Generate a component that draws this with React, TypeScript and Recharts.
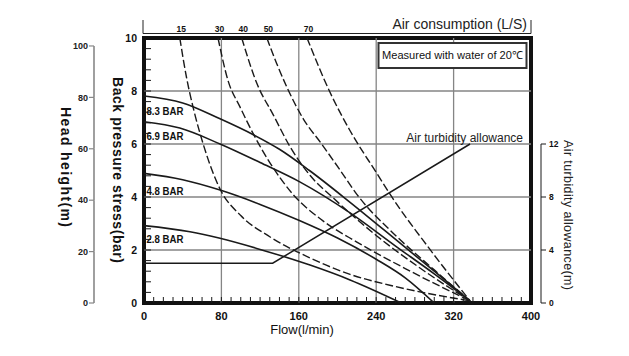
import React from 'react'
import { LineChart, Line, XAxis, YAxis, ReferenceLine, ReferenceArea } from 'recharts'

// pressure curves, [flow l/min, back pressure bar]
const P83 = [[0, 7.81], [40, 7.55], [78.6, 6.95], [113, 6.35], [140, 5.8], [171, 5.0], [213, 3.8], [260, 2.4], [300, 1.2], [337, 0.08]]
const P69 = [[0, 6.84], [37, 6.6], [78.6, 6.0], [120, 5.3], [161, 4.57], [213, 3.4], [260, 2.15], [300, 1.1], [337, 0.08]]
const P48 = [[0, 4.89], [40, 4.65], [78.6, 4.26], [120, 3.72], [160, 3.12], [200, 2.45], [240, 1.65], [270, 0.95], [300, 0]]
const P28 = [[0, 2.92], [47.5, 2.69], [78.6, 2.44], [116.5, 2.06], [171.6, 1.43], [213, 0.87], [266, 0]]

// air consumption curves (L/S)
const A15 = [[37, 10], [44, 8.5], [52, 7.2], [62, 5.9], [78.6, 4.3], [100, 3.3], [130, 2.5], [171.6, 1.7], [213, 1.08], [260, 0.62], [337, 0.08]]
const A30 = [[76.5, 10], [86.8, 8.4], [99.2, 7.4], [112.7, 6.4], [130, 5.3], [154, 4.1], [185, 3.1], [220, 2.3], [270, 1.3], [337, 0.08]]
const A40 = [[101, 10], [116.5, 8.3], [133.6, 7.1], [150.9, 5.9], [172, 4.8], [196, 3.95], [240, 2.55], [290, 1.2], [337, 0.08]]
const A50 = [[127, 10], [137, 9.05], [147.5, 8.16], [164.6, 6.95], [183.6, 6.0], [202, 5.05], [220, 4.1], [260, 2.55], [300, 1.25], [337, 0.08]]
const A70 = [[168.5, 10], [192, 7.97], [213, 6.5], [240.5, 4.9], [256, 4.01], [295, 2.05], [337, 0.08]]

// air turbidity allowance (m)
const TURB = [[0, 3], [133, 3], [337, 12]]

const PRESSURE = [
  { name: '8.3 BAR', pts: P83 },
  { name: '6.9 BAR', pts: P69 },
  { name: '4.8 BAR', pts: P48 },
  { name: '2.8 BAR', pts: P28 },
]
const AIR = [
  { name: '15', pts: A15 },
  { name: '30', pts: A30 },
  { name: '40', pts: A40 },
  { name: '50', pts: A50 },
  { name: '70', pts: A70 },
]

const FLOW_TICKS = [0, 80, 160, 240, 320, 400]
const BAR_TICKS = [0, 2, 4, 6, 8, 10]
const HEAD_TICKS = [0, 20, 40, 60, 80, 100]
const TURB_TICKS = [0, 4, 8, 12]
const GRID_X = [80, 160, 240, 320]
const GRID_Y = [2, 4, 6, 8]

const FLOW_MINOR = Array.from({ length: 41 }, (_, i) => i * 10)
const BAR_MINOR = Array.from({ length: 26 }, (_, i) => Math.round(i * 4) / 10)

const W = 629
const H = 356
const PLOT_L = 144
const PLOT_T = 38
const PLOT_R = 531
const PLOT_B = 303
const PLOT_H = PLOT_B - PLOT_T
const PX_FLOW = (PLOT_R - PLOT_L) / 400
const HEAD_MAX = 103.1
const TURB_MAX = 20
const FONT = 'Arial, "Liberation Sans", Helvetica, sans-serif'
const INK = '#1a1a1a'

const toPts = (arr: number[][]) => arr.map(([flow, v]) => ({ flow, v }))

const BarTick = (p: any) => {
  const { x, y, payload } = p
  const v = payload.value
  const major = BAR_TICKS.some((t) => Math.abs(t - v) < 1e-6)
  return (
    <g>
      {v > 0 && v < 10 && <line x1={x} y1={y} x2={x + 7} y2={y} stroke={INK} strokeWidth={1} />}
      {major && (
        <text x={x - 7} y={y} dy="0.36em" textAnchor="end" fontSize={10.5} fontWeight="bold" fontFamily={FONT} fill="#111">
          {Math.round(v)}
        </text>
      )}
    </g>
  )
}

const FlowTick = (p: any) => {
  const { x, y, payload } = p
  const v = payload.value
  return (
    <g>
      {v > 0 && v < 400 && <line x1={x} y1={y} x2={x} y2={y - 6} stroke={INK} strokeWidth={1} />}
      {FLOW_TICKS.includes(v) && (
        <text x={x} y={y + 17} textAnchor="middle" fontSize={11} fontWeight="bold" fontFamily={FONT} fill="#111">
          {v}
        </text>
      )}
    </g>
  )
}

const HeadTick = (p: any) => {
  const { x, y, payload } = p
  const v = payload.value
  const step = (HEAD_TICKS[1] - HEAD_TICKS[0]) * (PLOT_H / HEAD_MAX)
  return (
    <g>
      {v < 100 && <line x1={x} y1={y} x2={x} y2={y - step} stroke="#888" strokeWidth={1.6} />}
      <line x1={x - 5} y1={y} x2={x} y2={y} stroke="#888" strokeWidth={1.2} />
      <text x={x - 6} y={y} dy="0.36em" textAnchor="end" fontSize={9} fontWeight="bold" fontFamily={FONT} fill="#222">
        {v}
      </text>
    </g>
  )
}

const TurbTick = (p: any) => {
  const { x, y, payload } = p
  const v = payload.value
  const ax = x + 10
  const step = (TURB_TICKS[1] - TURB_TICKS[0]) * (PLOT_H / TURB_MAX)
  return (
    <g>
      {v < 12 && <line x1={ax} y1={y} x2={ax} y2={y - step} stroke={INK} strokeWidth={1} />}
      <line x1={ax} y1={y} x2={ax + 5} y2={y} stroke={INK} strokeWidth={1} />
      <text x={ax + 8} y={y} dy="0.36em" textAnchor="start" fontSize={8.5} fontWeight="bold" fontFamily={FONT} fill="#111">
        {v}
      </text>
    </g>
  )
}

const PRESSURE_LABEL_Y = [115, 140, 195, 243]

export default function App() {
  return (
    <div style={{ position: 'relative', width: W, height: H, background: '#fff' }}>
      <style>{'body{margin:0}'}</style>
      <LineChart width={W} height={H} margin={{ top: PLOT_T, right: W - PLOT_R - 40, bottom: H - PLOT_B - 20, left: PLOT_L - 90 }}>
        <XAxis
          xAxisId="flow"
          dataKey="flow"
          type="number"
          domain={[0, 400]}
          ticks={FLOW_MINOR}
          interval={0}
          height={20}
          tick={(p: any) => <FlowTick {...p} />}
          tickLine={false}
          axisLine={false}
          tickSize={0}
          tickMargin={0}
          allowDataOverflow
        />
        <YAxis
          yAxisId="bar"
          type="number"
          domain={[0, 10]}
          ticks={BAR_MINOR}
          interval={0}
          width={50}
          tick={(p: any) => <BarTick {...p} />}
          tickLine={false}
          axisLine={false}
          tickSize={0}
          tickMargin={0}
          allowDataOverflow
        />
        <YAxis
          yAxisId="head"
          type="number"
          domain={[0, HEAD_MAX]}
          ticks={HEAD_TICKS}
          interval={0}
          width={40}
          tick={(p: any) => <HeadTick {...p} />}
          tickLine={false}
          axisLine={false}
          tickSize={0}
          tickMargin={0}
          allowDataOverflow
        />
        <YAxis
          yAxisId="turb"
          orientation="right"
          type="number"
          domain={[0, TURB_MAX]}
          ticks={TURB_TICKS}
          interval={0}
          width={40}
          tick={(p: any) => <TurbTick {...p} />}
          tickLine={false}
          axisLine={false}
          tickSize={0}
          tickMargin={0}
          allowDataOverflow
        />

        {GRID_X.map((g) => (
          <ReferenceLine key={'gx' + g} x={g} xAxisId="flow" yAxisId="bar" stroke="#858585" strokeWidth={1.3} />
        ))}
        {GRID_Y.map((g) => (
          <ReferenceLine key={'gy' + g} y={g} xAxisId="flow" yAxisId="bar" stroke="#858585" strokeWidth={1.3} />
        ))}

        {AIR.map((c) => (
          <Line
            key={c.name}
            data={toPts(c.pts)}
            dataKey="v"
            xAxisId="flow"
            yAxisId="bar"
            type="monotone"
            stroke={INK}
            strokeWidth={1.4}
            strokeDasharray="8 3"
            dot={false}
            isAnimationActive={false}
          />
        ))}
        {PRESSURE.map((c) => (
          <Line
            key={c.name}
            data={toPts(c.pts)}
            dataKey="v"
            xAxisId="flow"
            yAxisId="bar"
            type="monotone"
            stroke={INK}
            strokeWidth={1.6}
            dot={false}
            isAnimationActive={false}
          />
        ))}
        <Line
          data={toPts(TURB)}
          dataKey="v"
          xAxisId="flow"
          yAxisId="turb"
          type="linear"
          stroke={INK}
          strokeWidth={1.5}
          dot={false}
          isAnimationActive={false}
        />

        <ReferenceArea x1={0} x2={400} y1={0} y2={10} xAxisId="flow" yAxisId="bar" fill="none" stroke="#111" strokeWidth={4} />
      </LineChart>

      <svg width={W} height={H} style={{ position: 'absolute', left: 0, top: 0, pointerEvents: 'none' }} fontFamily={FONT}>
        {/* air consumption bracket */}
        <path d={`M${PLOT_L - 1} 20 V33.5 H${PLOT_R} V20`} stroke="#222" strokeWidth={1} fill="none" />
        <text x={527} y={28.5} textAnchor="end" fontSize={14} fill="#222">
          Air consumption (L/S)
        </text>
        {AIR.map((c) => (
          <text key={c.name} x={PLOT_L + c.pts[0][0] * PX_FLOW + 1.5} y={32} textAnchor="middle" fontSize={8.5} fontWeight="bold" fill="#111">
            {c.name}
          </text>
        ))}

        <rect x={378.5} y={43} width={148} height={25} fill="#fff" stroke="#333" strokeWidth={2} />
        <text x={452.5} y={58.5} textAnchor="middle" fontSize={11} fill="#111" textLength={141} lengthAdjust="spacingAndGlyphs">
          Measured with water of 20℃
        </text>

        <text x={523} y={141.5} textAnchor="end" fontSize={12} fill="#222">
          Air turbidity allowance
        </text>

        {PRESSURE.map((c, i) => (
          <text key={c.name} x={146.5} y={PRESSURE_LABEL_Y[i]} fontSize={11.5} fontWeight="bold" fill="#111" textLength={37} lengthAdjust="spacingAndGlyphs">
            {c.name}
          </text>
        ))}

        <text transform="translate(61,167) rotate(90)" textAnchor="middle" fontSize={14} fontWeight="bold" fill="#111" textLength={120}>
          Head height(m)
        </text>
        <text transform="translate(112.5,170) rotate(90)" textAnchor="middle" fontSize={14} fontWeight="bold" fill="#111" textLength={186}>
          Back pressure stress(bar)
        </text>
        <text transform="translate(564,215) rotate(90)" textAnchor="middle" fontSize={12.5} fill="#222" textLength={150}>
          Air turbidity allowance(m)
        </text>
        <text x={302} y={334} textAnchor="middle" fontSize={13} fill="#111">
          Flow(l/min)
        </text>
      </svg>
    </div>
  )
}
